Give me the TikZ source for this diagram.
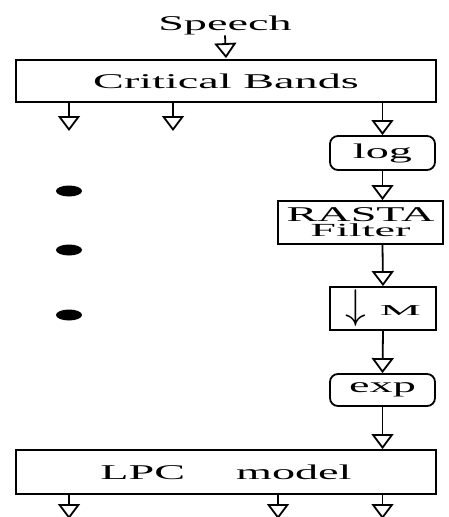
\documentclass[tikz,border=0pt]{standalone}
\usepackage{fontspec}
\usepackage{amsmath}
\usepackage{graphicx}
\newfontfamily\widefont[FakeStretch=2.2]{Liberation Serif}
\usetikzlibrary{arrows.meta,calc,shapes.geometric}

\begin{document}
\begin{tikzpicture}[x=1pt,y=-1pt,line width=1.8pt,
    every node/.style={font=\widefont\fontsize{21}{14}\selectfont,inner sep=0pt},
    block/.style={draw,minimum width=#1},
    roundblock/.style={draw,rounded corners=8pt,minimum width=#1},
    flow/.style={-{Triangle[open,width=22pt,length=15pt,line width=1.8pt]}},
    dot/.style={fill=black,ellipse,minimum width=26pt,minimum height=11pt}]

    \useasboundingbox (0,0) rectangle (448,517);

    \node[anchor=base] (speech) at (225,30) {Speech};

    \node[block=420pt,minimum height=42pt] (bands) at (226,81) {Critical Bands};

    \node[roundblock=105pt,minimum height=34pt] (log) at (382.5,153) {log};
    \node[block=165pt,minimum height=43pt,align=center] (rasta) at (360.5,222.5)
      {RASTA\\[1pt]\scalebox{1}[0.88]{Filter}};
    \node[block=106pt,minimum height=43pt] (decim) at (383,308.5)
      {\raisebox{-3pt}{\scalebox{2}{$\downarrow$}}\hspace{14pt}\scalebox{1}[0.72]{M}};
    \node[roundblock=105pt,minimum height=32pt] (exp) at (382.5,390) {exp};

    \node[block=420pt,minimum height=44pt] (lpc) at (226,472) {LPC\hspace{51pt}model};

    % the other bands
    \foreach \y [count=\i] in {191,250,315}
      \node[dot] (d\i) at (69,\y) {};

    % open ends of the band outputs
    \coordinate (b1) at (69,131);
    \coordinate (b2) at (173,131);
    \coordinate (o1) at (69,519);
    \coordinate (o2) at (278,519);
    \coordinate (o3) at (382.5,519);

    \draw[flow] (speech.south) -- ($(bands.north)+(0,-1)$);
    \draw[flow] (bands.south -| b1) -- (b1);
    \draw[flow] (bands.south -| b2) -- (b2);
    \draw[flow] (bands.south -| log) -- (log.north);
    \draw[flow] (log.south) -- (log.south |- rasta.north);
    \draw[flow] (log.south |- rasta.south) -- (decim.north);
    \draw[flow] (decim.south) -- (exp.north);
    \draw[flow] (exp.south) -- (exp.south |- lpc.north);
    \foreach \o in {o1,o2,o3}
      \draw[flow] (lpc.south -| \o) -- (\o);
\end{tikzpicture}
\end{document}
